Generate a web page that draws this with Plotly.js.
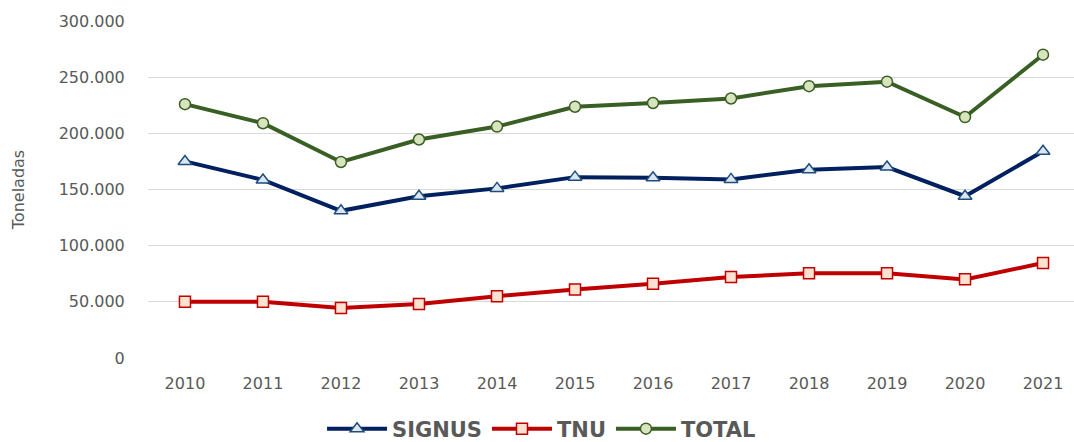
<!DOCTYPE html>
<html>
<head>
<meta charset="utf-8">
<script src="https://cdn.plot.ly/plotly-3.0.1.min.js"></script>
<style>html,body{margin:0;padding:0;background:#fff;}#chart{width:1074px;height:442px;}</style>
</head>
<body>
<div id="chart"></div>
<script>
const years = ["2010","2011","2012","2013","2014","2015","2016","2017","2018","2019","2020","2021"];
const signus = [175000,158500,131000,144000,151000,161000,160500,159000,167600,170000,144000,184000];
const tnu = [50000,50000,44500,48000,55000,61000,66000,72000,75400,75400,70000,84500];
const total = [226000,209000,174500,194500,206000,223700,227000,231000,242000,246000,214500,270000];

const traces = [
  {x: years, y: signus, name: "SIGNUS", type: "scatter", mode: "lines+markers",
   line: {color: "#002060", width: 4},
   marker: {symbol: "triangle-up", size: 12, color: "#dce6f2", line: {color: "#1f4e79", width: 1.5}}},
  {x: years, y: tnu, name: "TNU", type: "scatter", mode: "lines+markers",
   line: {color: "#c00000", width: 4},
   marker: {symbol: "square", size: 11, color: "#fde2d2", line: {color: "#c00000", width: 1.5}}},
  {x: years, y: total, name: "TOTAL", type: "scatter", mode: "lines+markers",
   line: {color: "#3a5f24", width: 4},
   marker: {symbol: "circle", size: 11, color: "#d7e4bd", line: {color: "#3a5f24", width: 1.5}}}
];

const layout = {
  width: 1074, height: 442,
  margin: {l: 148, r: 0, t: 21, b: 84, autoexpand: false},
  paper_bgcolor: "#fff", plot_bgcolor: "#fff",
  separators: ",.",
  font: {family: "DejaVu Sans, Verdana, sans-serif", color: "#595959", size: 16},
  xaxis: {type: "category", range: [-0.474, 11.397], showgrid: false, zeroline: false,
          showline: false, ticks: "outside", ticklen: 11, tickcolor: "rgba(0,0,0,0)",
          tickfont: {size: 16, color: "#595959"}},
  yaxis: {range: [0, 300000], dtick: 50000, tickformat: ",d", showgrid: true,
          gridcolor: "#d9d9d9", gridwidth: 1, zeroline: false, showline: false,
          ticks: "outside", ticklen: 19, tickcolor: "rgba(0,0,0,0)",
          tickfont: {size: 16, color: "#595959"},
          title: {text: "Toneladas", font: {size: 16, color: "#595959"}, standoff: 30}},
  legend: {orientation: "h", x: 0.425, xanchor: "center", y: -0.15, yanchor: "top",
           font: {size: 21, color: "#595959", weight: "bold"}, itemwidth: 60, traceorder: "normal"},
  showlegend: true
};

Plotly.newPlot("chart", traces, layout, {displayModeBar: false, staticPlot: true});
</script>
</body>
</html>
